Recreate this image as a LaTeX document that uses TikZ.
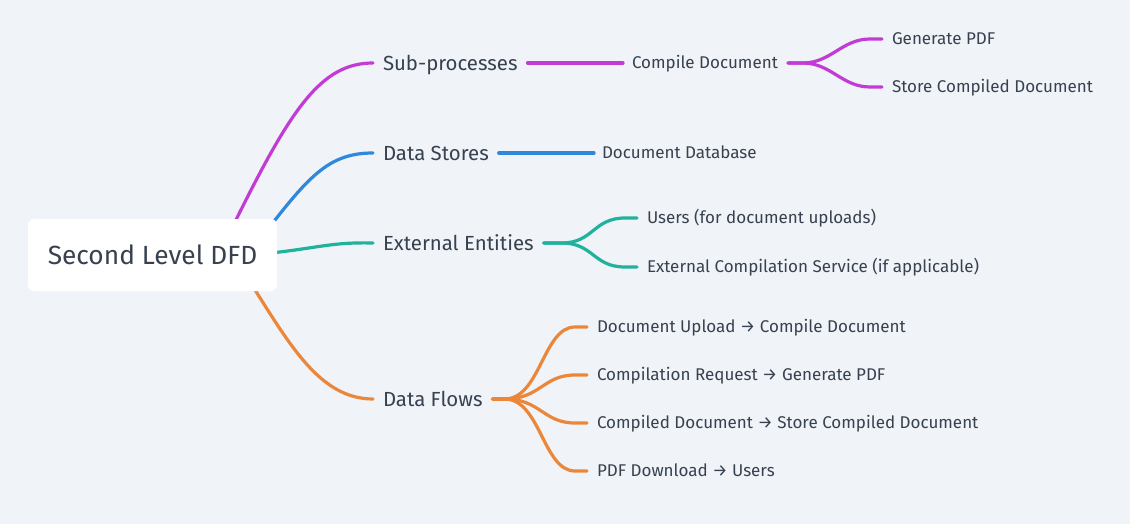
\documentclass[tikz,border=0pt]{standalone}
\usepackage{fontspec}
\setmainfont{Fira Sans}
\definecolor{bgc}{HTML}{F0F3F7}
\definecolor{txt}{HTML}{37414F}
\definecolor{cpur}{HTML}{C23BD4}
\definecolor{cblu}{HTML}{2E88DC}
\definecolor{ctea}{HTML}{20B29C}
\definecolor{cora}{HTML}{EA873A}
\begin{document}
\begin{tikzpicture}[x=1pt,y=-1pt,
  lbl/.style={inner sep=0pt, outer sep=0pt, anchor=west, text=txt, text depth=0pt},
  lone/.style={lbl, font=\fontsize{20.4}{23}\selectfont, text height=14.1pt},
  ltwo/.style={lbl, font=\fontsize{17}{20}\selectfont, text height=11.7pt},
  rootbox/.style={fill=white, rounded corners=6pt, minimum width=249pt, minimum height=72pt, inner sep=0pt, text=txt, font=\fontsize{26.3}{30}\selectfont},
  conn/.style={line width=3.2pt, line cap=round}]
\fill[bgc] (0,0) rectangle (1130,524);
\useasboundingbox (0,0) rectangle (1130,524);

% labels
\node[lone] (sub) at (383,63) {Sub-processes};
\node[lone] (ds) at (383,153) {Data Stores};
\node[lone] (ee) at (383,243) {External Entities};
\node[lone] (df) at (383,399) {Data Flows};

\node[ltwo] (cd) at (632,63) {Compile Document};
\node[ltwo] (gp) at (892,39) {Generate PDF};
\node[ltwo] (scd) at (892,87) {Store Compiled Document};
\node[ltwo] (ddb) at (602,153) {Document Database};
\node[ltwo] (us) at (647,218) {Users (for document uploads)};
\node[ltwo] (ecs) at (647,267) {External Compilation Service (if applicable)};
\node[ltwo] (f1) at (597,327) {Document Upload → Compile Document};
\node[ltwo] (f2) at (597,375) {Compilation Request → Generate PDF};
\node[ltwo] (f3) at (597,423) {Compiled Document → Store Compiled Document};
\node[ltwo] (f4) at (597,471) {PDF Download → Users};

% root-side start points (hidden behind the box)
\coordinate (r1) at (230,232);
\coordinate (r2) at (268,229);
\coordinate (r3) at (262,254);
\coordinate (r4) at (250,282);

% root to level 1
\draw[conn, cpur] (r1) .. controls (290,110) and (320,63) .. ([xshift=-10pt]sub.west);
\draw[conn, cblu] (r2) .. controls (310,175) and (330,153) .. ([xshift=-10pt]ds.west);
\draw[conn, ctea] (r3) .. controls (320,248) and (330,242) .. ([xshift=-10pt]ee.west);
\draw[conn, cora] (r4) .. controls (290,345) and (320,399) .. ([xshift=-10pt]df.west);

% level 1 to level 2
\draw[conn, cpur] ([xshift=10pt]sub.east) -- ([xshift=-9pt]cd.west);
\draw[conn, cblu] ([xshift=10pt]ds.east) -- ([xshift=-8pt]ddb.west);

% purple fork
\coordinate (pf) at ([xshift=10pt]cd.east);
\draw[conn, cpur] (pf) -- ++(15,0) .. controls +(28,0) and +(-28,0) .. ([xshift=-22pt]gp.west) -- ([xshift=-10pt]gp.west);
\draw[conn, cpur] (pf) -- ++(15,0) .. controls +(28,0) and +(-28,0) .. ([xshift=-22pt]scd.west) -- ([xshift=-10pt]scd.west);

% teal fork
\coordinate (tf) at ([xshift=10pt]ee.east);
\draw[conn, ctea] (tf) -- ++(18,0) .. controls +(32,0) and +(-32,0) .. ([xshift=-22pt]us.west) -- ([xshift=-10pt]us.west);
\draw[conn, ctea] (tf) -- ++(18,0) .. controls +(32,0) and +(-32,0) .. ([xshift=-22pt]ecs.west) -- ([xshift=-10pt]ecs.west);

% orange fork
\coordinate (of) at ([xshift=10pt]df.east);
\foreach \t in {f1,f2,f3,f4}{
  \draw[conn, cora] (of) -- ++(12,0) .. controls +(36,0) and +(-32,0) .. ([xshift=-22pt]\t.west) -- ([xshift=-10pt]\t.west);
}

% root
\node[rootbox] (root) at (152.5,255) {Second Level DFD};
\end{tikzpicture}
\end{document}
